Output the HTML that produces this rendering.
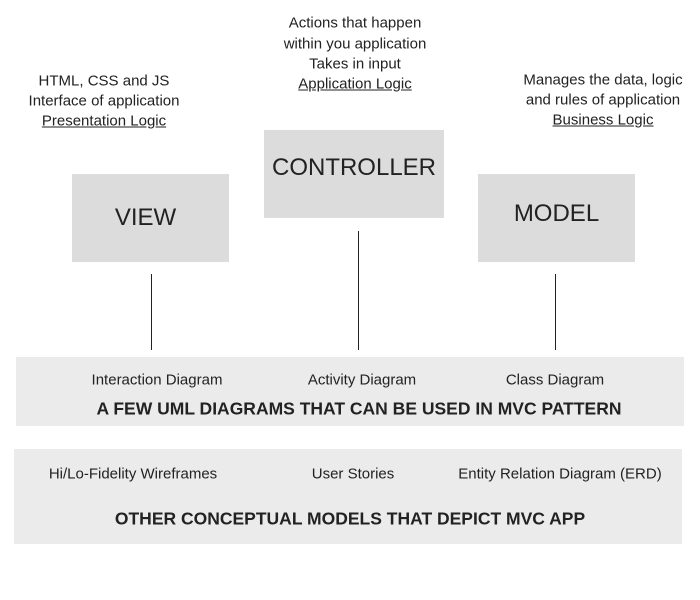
<!DOCTYPE html>
<html><head><meta charset="utf-8"><style>
body{margin:0;width:700px;height:600px;background:#fff;position:relative;overflow:hidden;font-family:"Liberation Sans",sans-serif;color:#222}
.t{position:absolute;white-space:nowrap;transform:translate(-50%,-50%);font-size:15px}
.u{text-decoration:underline}
.box{position:absolute;background:#dcdcdc;display:flex;align-items:center;justify-content:center;font-size:24px;color:#222}
.ln{position:absolute;width:1px;background:#222}
.panel{position:absolute;background:#ebebeb}
.b{font-weight:bold;font-size:17.5px}
</style></head><body>
<div class="t" style="left:355px;top:23px">Actions that happen</div>
<div class="t" style="left:355px;top:44px">within you application</div>
<div class="t" style="left:355px;top:64px">Takes in input</div>
<div class="t u" style="left:355px;top:84px">Application Logic</div>

<div class="t" style="left:104px;top:81px">HTML, CSS and JS</div>
<div class="t" style="left:104px;top:101px">Interface of application</div>
<div class="t u" style="left:104px;top:121px">Presentation Logic</div>

<div class="t" style="left:603px;top:80px">Manages the data, logic</div>
<div class="t" style="left:603px;top:100px">and rules of application</div>
<div class="t u" style="left:603px;top:120px">Business Logic</div>

<div class="box" style="left:72px;top:174px;width:157px;height:88px;padding-right:10px;box-sizing:border-box">VIEW</div>
<div class="box" style="left:264px;top:130px;width:180px;height:88px;padding-bottom:12px;box-sizing:border-box">CONTROLLER</div>
<div class="box" style="left:478px;top:174px;width:157px;height:88px;padding-bottom:8px;box-sizing:border-box">MODEL</div>

<div class="ln" style="left:151px;top:274px;height:76px"></div>
<div class="ln" style="left:358px;top:231px;height:119px"></div>
<div class="ln" style="left:555px;top:274px;height:76px"></div>

<div class="panel" style="left:16px;top:357px;width:668px;height:69px"></div>
<div class="t" style="left:157px;top:380px">Interaction Diagram</div>
<div class="t" style="left:362px;top:380px">Activity Diagram</div>
<div class="t" style="left:555px;top:380px">Class Diagram</div>
<div class="t b" style="left:359px;top:409px">A FEW UML DIAGRAMS THAT CAN BE USED IN MVC PATTERN</div>

<div class="panel" style="left:14px;top:449px;width:668px;height:95px"></div>
<div class="t" style="left:133px;top:474px">Hi/Lo-Fidelity Wireframes</div>
<div class="t" style="left:353px;top:474px">User Stories</div>
<div class="t" style="left:560px;top:474px">Entity Relation Diagram (ERD)</div>
<div class="t b" style="left:350px;top:519px">OTHER CONCEPTUAL MODELS THAT DEPICT MVC APP</div>
</body></html>
